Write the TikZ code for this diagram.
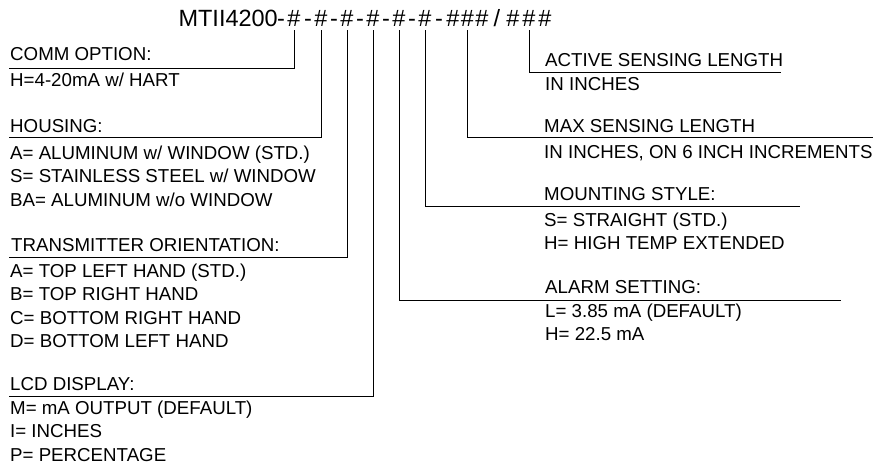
\documentclass[tikz,border=0pt]{standalone}
\usepackage{fontspec}
\setmainfont{Liberation Sans}

\tikzset{
  txt/.style={inner sep=0pt, anchor=base west, font=\fontsize{18.7}{23.5}\selectfont},
  opts/.style={txt, align=left},
  code/.style={inner sep=0pt, anchor=base, font=\fontsize{23.5}{28}\selectfont},
  lead/.style={draw, line width=1pt}
}

\begin{document}
\begin{tikzpicture}[x=1pt,y=-1pt]

  \useasboundingbox (0,0) rectangle (877,469);

  % part number
  \node[code, anchor=base east] (pre) at (278,26.5) {MTII4200};
  \foreach \n/\x in {1/294,2/321,3/347,4/373,5/399,6/425} {
    \node[code] at (\x-13,26.5) {-};
    \node[code] (h\n) at (\x,26.5) {\#};
  }
  \node[code] at (439,26.5) {-};
  \node[code] (g1a) at (453,26.5) {\#};
  \node[code] (g1) at (467.5,26.5) {\#};
  \node[code] (g1c) at (482,26.5) {\#};
  \node[code] (slash) at (497,26.5) {/};
  \node[code] (g2a) at (513,26.5) {\#};
  \node[code] (g2) at (529,26.5) {\#};
  \node[code] (g2c) at (545,26.5) {\#};

  % left column (option lists sit on the baseline of their last line)
  \node[txt] (comm) at (10,60.7) {COMM OPTION:};
  \node[opts] (commopt) at (10,86.7) {H=4-20mA w/ HART};
  \node[txt] (housing) at (10,132.7) {HOUSING:};
  \node[opts] (housingopt) at (10,206.3) {A= ALUMINUM w/ WINDOW (STD.)\\S= STAINLESS STEEL w/ WINDOW\\BA= ALUMINUM w/o WINDOW};
  \node[txt] (orient) at (11,251.7) {TRANSMITTER ORIENTATION:};
  \node[opts] (orientopt) at (10,347.8) {A= TOP LEFT HAND (STD.)\\B= TOP RIGHT HAND\\C= BOTTOM RIGHT HAND\\D= BOTTOM LEFT HAND};
  \node[txt] (lcd) at (10,390.7) {LCD DISPLAY:};
  \node[opts] (lcdopt) at (10,461.3) {M= mA OUTPUT (DEFAULT)\\I= INCHES\\P= PERCENTAGE};

  % right column
  \node[txt] (actlen) at (545,66) {ACTIVE SENSING LENGTH};
  \node[opts] (actlenopt) at (545,90) {IN INCHES};
  \node[txt] (maxlen) at (544,132.3) {MAX SENSING LENGTH};
  \node[opts] (maxlenopt) at (544,158.3) {IN INCHES, ON 6 INCH INCREMENTS};
  \node[txt] (mount) at (544,200.7) {MOUNTING STYLE:};
  \node[opts] (mountopt) at (544,249.7) {S= STRAIGHT (STD.)\\H= HIGH TEMP EXTENDED};
  \node[txt] (alarm) at (545,293.3) {ALARM SETTING:};
  \node[opts] (alarmopt) at (545,340.5) {L= 3.85 mA (DEFAULT)\\H= 22.5 mA};

  % line ends
  \coordinate (commend) at (9,68.5);
  \coordinate (housingend) at (9,137.7);
  \coordinate (orientend) at (9,257.3);
  \coordinate (lcdend) at (9,396);
  \coordinate (actlenend) at (781,72.3);
  \coordinate (maxlenend) at (873,137.7);
  \coordinate (mountend) at (800,206.7);
  \coordinate (alarmend) at (841,300);

  \path[lead] (h1.base) ++(0,3.5) |- (commend);
  \path[lead] (h2.base) ++(0,3.5) |- (housingend);
  \path[lead] (h3.base) ++(0,3.5) |- (orientend);
  \path[lead] (h4.base) ++(0,3.5) |- (lcdend);
  \path[lead] (h5.base) ++(0,3.5) |- (alarmend);
  \path[lead] (h6.base) ++(0,3.5) |- (mountend);
  \path[lead] (g1.base) ++(0,3.5) |- (maxlenend);
  \path[lead] (g2.base) ++(0,3.5) |- (actlenend);

\end{tikzpicture}
\end{document}
